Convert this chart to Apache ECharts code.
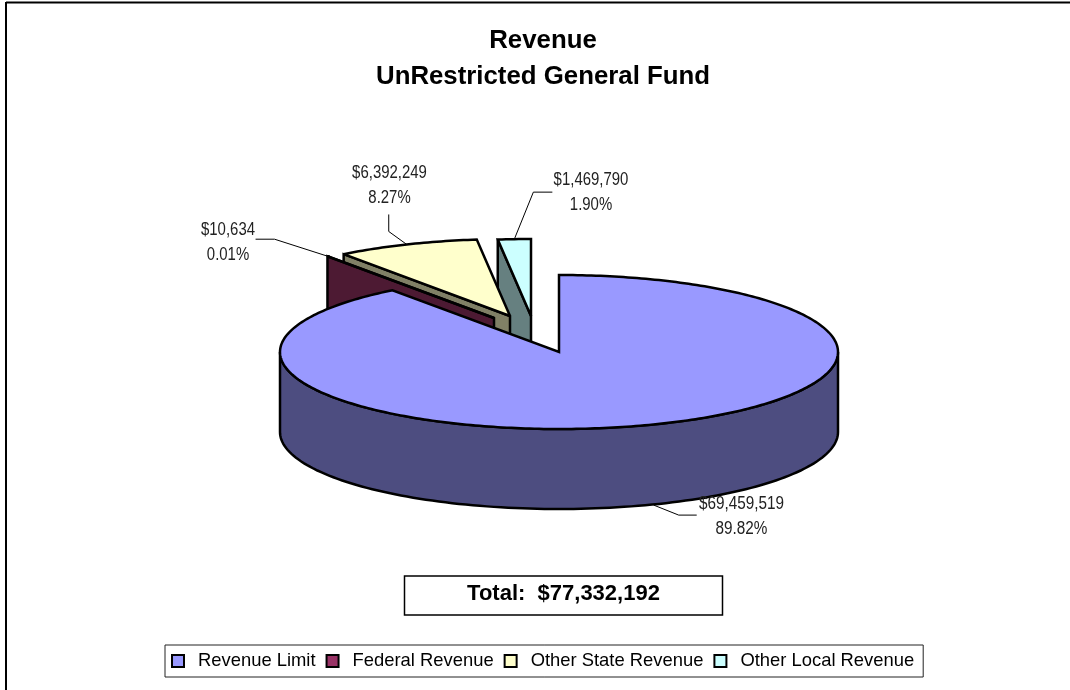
<!DOCTYPE html>
<html>
<head>
<meta charset="utf-8">
<title>Revenue</title>
<script src="https://cdn.jsdelivr.net/npm/echarts@6/dist/echarts.min.js"></script>
<style>
  html, body { margin: 0; padding: 0; background: #fff; }
  #chart { width: 1070px; height: 690px; }
</style>
</head>
<body>
<div id="chart"></div>
<script>
var categories = ['Revenue Limit', 'Federal Revenue', 'Other State Revenue', 'Other Local Revenue']
var revenue = [69459519, 10634, 6392249, 1469790]

var faceColors = ['#9999FF', '#993366', '#FFFFCC', '#CCFFFF']
var wallColors = ['#4D4D80', '#4D1A33', '#808066', '#668080']

// pie geometry, squashed ellipse with a fixed extrusion
var cx = 559
var cy = 352
var rx = 279
var ry = 77
var depth = 80
// how far each slice is pulled away from the centre
var explode = [[0, 0], [-65, -34], [-49, -36], [-28, -36]]
// leader line elbows, relative to the slice edge, then label centre
var leaders = [
  [[25, 10], [43, 10]],
  [[-53, -17], [-72, -17]],
  [[-18, -13], [-18, -30]],
  [[19, -47], [38, -47]]
]
var labelPos = [[741.5, 503], [228, 229], [389.5, 172], [591, 179]]

var total = revenue.reduce(function (a, b) { return a + b }, 0)

function money (v) {
  return '$' + String(v).replace(/\B(?=(\d{3})+$)/g, ',')
}

// angle in radians, 0 at twelve o'clock going clockwise
function onRim (i, a) {
  return [cx + explode[i][0] + rx * Math.sin(a), cy + explode[i][1] - ry * Math.cos(a)]
}

function sliceRange (i) {
  var before = 0
  for (var k = 0; k < i; k++) before += revenue[k]
  return [before / total * Math.PI * 2, (before + revenue[i]) / total * Math.PI * 2]
}

function renderSlice (i) {
  var range = sliceRange(i)
  var apex = [cx + explode[i][0], cy + explode[i][1]]
  var stroke = { stroke: '#000', lineWidth: 2.5, lineJoin: 'miter', miterLimit: 2 }
  var children = []

  // top face
  var face = [apex]
  var steps = Math.max(2, Math.ceil((range[1] - range[0]) * 60))
  for (var s = 0; s <= steps; s++) {
    face.push(onRim(i, range[0] + (range[1] - range[0]) * s / steps))
  }

  if (i === 0) {
    // front rim of the big slice
    var wall = []
    var back = []
    for (var t = 0; t <= 120; t++) {
      var p = onRim(0, Math.PI / 2 + Math.PI * t / 120)
      wall.push([p[0], p[1]])
      back.unshift([p[0], p[1] + depth])
    }
    children.push({
      type: 'polygon',
      shape: { points: wall.concat(back) },
      style: Object.assign({ fill: wallColors[0] }, stroke)
    })
  } else {
    // cut face that looks toward the viewer
    var edge = onRim(i, range[0])
    children.push({
      type: 'polygon',
      shape: { points: [apex, edge, [edge[0], edge[1] + depth], [apex[0], apex[1] + depth]] },
      style: Object.assign({ fill: wallColors[i] }, stroke)
    })
  }

  children.push({
    type: 'polygon',
    shape: { points: face },
    style: Object.assign({ fill: faceColors[i] }, stroke)
  })

  // leader line and label
  var mid = (range[0] + range[1]) / 2
  var anchor = onRim(i, mid)
  if (i === 0) anchor = [anchor[0] + 7, anchor[1] + depth]
  var line = [anchor]
  leaders[i].forEach(function (d) {
    line.push([anchor[0] + d[0], anchor[1] + d[1]])
  })
  children.push({
    type: 'polyline',
    shape: { points: line },
    style: { stroke: '#000', lineWidth: 1, fill: null }
  })
  // no narrow face installed, so the labels get squeezed sideways
  children.push({
    type: 'text',
    z2: 10,
    x: labelPos[i][0],
    y: labelPos[i][1] + 14,
    scaleX: i === 0 ? 0.85 : 0.83,
    style: {
      text: money(revenue[i]) + '\n' + (revenue[i] / total * 100).toFixed(2) + '%',
      font: '18px "Liberation Sans", Arial, sans-serif',
      lineHeight: 25,
      fill: '#222',
      align: 'center',
      verticalAlign: 'middle'
    }
  })

  return { type: 'group', children: children }
}

var myChart = echarts.init(document.getElementById('chart'), null, { renderer: 'canvas' })

myChart.setOption({
  animation: false,
  backgroundColor: '#fff',
  title: {
    text: 'Revenue\nUnRestricted General Fund',
    left: 538,
    top: 18,
    textAlign: 'center',
    textStyle: {
      fontFamily: '"Liberation Sans", Arial, sans-serif',
      fontSize: 25.8,
      fontWeight: 'bold',
      color: '#000',
      lineHeight: 36
    }
  },
  legend: {
    data: categories,
    left: 165,
    top: 645,
    orient: 'horizontal',
    icon: 'rect',
    itemWidth: 12,
    itemHeight: 12,
    itemGap: 10,
    padding: [7, 9, 7, 6],
    borderColor: '#222',
    borderWidth: 1,
    selectedMode: false,
    itemStyle: { borderColor: '#000', borderWidth: 2 },
    textStyle: {
      fontFamily: '"Liberation Sans", Arial, sans-serif',
      fontSize: 18.4,
      color: '#000',
      padding: [0, 0, 0, 9]
    }
  },
  graphic: [
    { type: 'line', shape: { x1: 6, y1: 2.5, x2: 1070, y2: 2.5 }, style: { stroke: '#000', lineWidth: 2 } },
    { type: 'line', shape: { x1: 6, y1: 2, x2: 6, y2: 690 }, style: { stroke: '#000', lineWidth: 2 } },
    {
      type: 'rect',
      shape: { x: 404.5, y: 576, width: 318, height: 39 },
      style: { fill: '#fff', stroke: '#000', lineWidth: 1.5 }
    },
    {
      type: 'text',
      style: {
        x: 563.5,
        y: 594,
        text: 'Total:  ' + money(total),
        font: 'bold 22px "Liberation Sans", Arial, sans-serif',
        fill: '#000',
        align: 'center',
        verticalAlign: 'middle'
      }
    }
  ],
  series: categories.map(function (name, i) {
    return {
      name: name,
      type: 'custom',
      coordinateSystem: 'none',
      z: categories.length - i,
      itemStyle: { color: faceColors[i] },
      data: [revenue[i]],
      renderItem: function () { return renderSlice(i) }
    }
  })
})
</script>
</body>
</html>
